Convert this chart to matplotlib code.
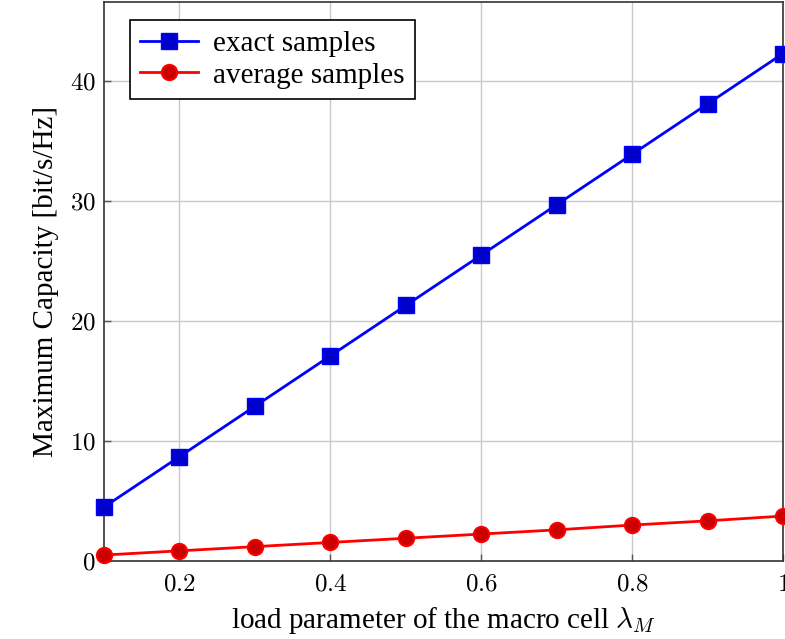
import matplotlib
matplotlib.use("Agg")
import matplotlib.pyplot as plt

load = [0.1, 0.2, 0.3, 0.4, 0.5, 0.6, 0.7, 0.8, 0.9, 1.0]
exact = [4.5, 8.7, 12.9, 17.1, 21.3, 25.5, 29.7, 33.9, 38.1, 42.3]
average = [0.5, 0.85, 1.2, 1.55, 1.9, 2.25, 2.6, 3.0, 3.35, 3.75]

xticks = [0.2, 0.4, 0.6, 0.8, 1.0]
xticklabels = ["0.2", "0.4", "0.6", "0.8", "1"]
yticks = [0, 10, 20, 30, 40]

plt.rcParams["font.family"] = ["Liberation Serif", "DejaVu Serif"]
plt.rcParams["mathtext.fontset"] = "cm"

fig = plt.figure(figsize=(7.85, 6.39), dpi=100)
ax = fig.add_axes([0.1325, 0.122, 0.865, 0.875])

ax.plot(load, exact, color="#0000ff", lw=2, marker="s", ms=11,
        mfc="#0000cc", mec="#0000ff", mew=1, label="exact samples", clip_on=False, zorder=3)
ax.plot(load, average, color="#ff0000", lw=2, marker="o", ms=11,
        mfc="#cc0000", mec="#ff0000", mew=1.5, label="average samples", clip_on=False, zorder=3)

ax.set_xlim(0.1, 1.0)
ax.set_ylim(0, 46.6)
ax.set_xticks(xticks)
ax.set_xticklabels(["$" + t + "$" for t in xticklabels], fontsize=18)
ax.set_yticks(yticks)
ax.set_yticklabels(["$%d$" % t for t in yticks], fontsize=18)
ax.tick_params(direction="in", length=5, width=1, color="#555555")
ax.tick_params(axis="x", pad=9)
ax.tick_params(axis="y", pad=6)
ax.grid(True, color="#c8c8c8", lw=1)
ax.set_axisbelow(True)
for s in ax.spines.values():
    s.set_color("#333333")
    s.set_linewidth(1.2)

ax.set_xlabel(r"load parameter of the macro cell $\lambda_M$", fontsize=21, labelpad=7)
ax.set_ylabel(r"Maximum Capacity [bit/s/Hz]", fontsize=21, labelpad=8)

leg = ax.legend(loc="upper left", bbox_to_anchor=(0.038, 0.967), fontsize=21,
                fancybox=False, edgecolor="black", framealpha=1,
                handlelength=2.0, borderpad=0.35, labelspacing=0.18, handletextpad=0.5,
                borderaxespad=0)
leg.get_frame().set_linewidth(1.2)

fig.savefig("out.png", dpi=100)
